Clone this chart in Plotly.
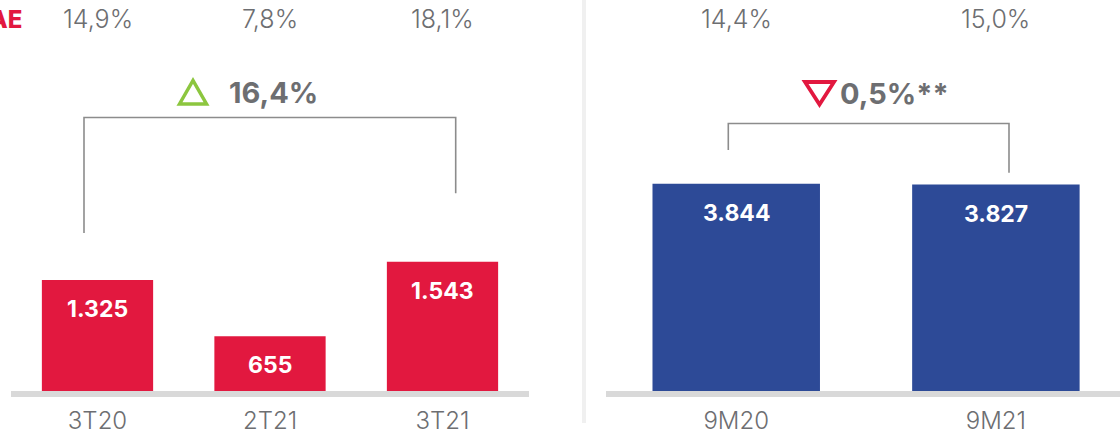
import plotly.graph_objects as go

W, H = 1120, 436

# ---- data ----
q_categories = ["3T20", "2T21", "3T21"]
q_values = [1325, 655, 1543]
q_roae = ["14,9%", "7,8%", "18,1%"]

ytd_categories = ["9M20", "9M21"]
ytd_values = [3844, 3827]
ytd_roae = ["14,4%", "15,0%"]

q_change = "16,4%"
ytd_change = "0,5%**"

RED = "#E2183F"
BLUE = "#2D4A97"
GRAY_TXT = "#6D6E71"
GREEN = "#8CC63F"
FONT = "Inter"


def px(x):
    return x / W


def py(y):
    return 1 - y / H


def fmt(v):
    return f"{v:,}".replace(",", ".")


fig = go.Figure()
fig.add_trace(go.Bar(x=q_categories, y=q_values, marker=dict(color=RED, line_width=0),
                     xaxis="x", yaxis="y", hoverinfo="skip"))
fig.add_trace(go.Bar(x=ytd_categories, y=ytd_values, marker=dict(color=BLUE, line_width=0),
                     xaxis="x2", yaxis="y2", hoverinfo="skip"))

ybot = py(391)
axis_common = dict(showline=True, linecolor="#D9D9D9", linewidth=6, showgrid=False,
                   zeroline=False, ticks="", fixedrange=True,
                   tickfont=dict(family=FONT, size=24, color=GRAY_TXT, weight=300),
                   ticklabelstandoff=3)
fig.update_layout(
    width=W, height=H, margin=dict(l=0, r=0, t=0, b=0),
    paper_bgcolor="white", plot_bgcolor="white", showlegend=False, bargap=0.355,
    xaxis=dict(domain=[px(11.25), px(528.75)], anchor="y", range=[-0.5, 2.5], **axis_common),
    yaxis=dict(domain=[ybot, 1], range=[0, 4669], visible=False, fixedrange=True),
    xaxis2=dict(domain=[px(606.4), 1], anchor="y2", range=[-0.5, 1.478], **axis_common),
    yaxis2=dict(domain=[ybot, 1], range=[0, 7250], visible=False, fixedrange=True),
)

ann = []
# bar value labels
for cats, vals, xr, yr in [(q_categories, q_values, "x", "y"), (ytd_categories, ytd_values, "x2", "y2")]:
    for c, v in zip(cats, vals):
        ann.append(dict(x=c, y=v, xref=xr, yref=yr, text=fmt(v), showarrow=False,
                        yanchor="middle", yshift=-29,
                        font=dict(family=FONT, size=23, color="white", weight=700)))
# top ROAE row
for cats, vals, xr in [(q_categories, q_roae, "x"), (ytd_categories, ytd_roae, "x2")]:
    for c, t in zip(cats, vals):
        ann.append(dict(x=c, y=py(19.5), xref=xr, yref="paper", text=t, showarrow=False,
                        yanchor="middle", font=dict(family=FONT, size=25, color=GRAY_TXT, weight=300)))
ann.append(dict(x=px(24), y=py(19.5), xref="paper", yref="paper", text="ROAE", showarrow=False,
                xanchor="right", yanchor="middle",
                font=dict(family=FONT, size=24, color=RED, weight=800)))
# change labels
ann.append(dict(x=px(227), y=py(92), xref="paper", yref="paper", text=q_change, showarrow=False,
                xanchor="left", yanchor="middle",
                font=dict(family=FONT, size=29, color=GRAY_TXT, weight=700)))
ann.append(dict(x=px(838), y=py(93), xref="paper", yref="paper", text=ytd_change, showarrow=False,
                xanchor="left", yanchor="middle",
                font=dict(family=FONT, size=29, color=GRAY_TXT, weight=700)))
fig.update_layout(annotations=ann)


def path(points, close=False):
    s = "M " + " L ".join(f"{px(x)},{py(y)}" for x, y in points)
    return s + (" Z" if close else "")


shapes = [
    # separator
    dict(type="line", xref="paper", yref="paper", x0=px(584), x1=px(584), y0=py(0), y1=py(423),
         line=dict(color="#F0F0F0", width=4)),
    # brackets
    dict(type="path", xref="paper", yref="paper",
         path=path([(84, 233), (84, 117.5), (455.7, 117.5), (455.7, 193.3)]),
         line=dict(color="#8C8C8C", width=1.6)),
    dict(type="path", xref="paper", yref="paper",
         path=path([(728.3, 150), (728.3, 123.5), (1009, 123.5), (1009, 172.7)]),
         line=dict(color="#8C8C8C", width=1.6)),
    # triangles
    dict(type="path", xref="paper", yref="paper",
         path=path([(179.5, 104), (193, 80.5), (206.5, 104)], close=True),
         line=dict(color=GREEN, width=3.5)),
    dict(type="path", xref="paper", yref="paper",
         path=path([(805, 82), (834, 82), (819.5, 104.5)], close=True),
         line=dict(color=RED, width=3.8)),
]
fig.update_layout(shapes=shapes)

fig.write_html("out.html", config={"displayModeBar": False, "staticPlot": True},
               post_script="document.body.style.margin='0';document.body.style.overflow='hidden';")
